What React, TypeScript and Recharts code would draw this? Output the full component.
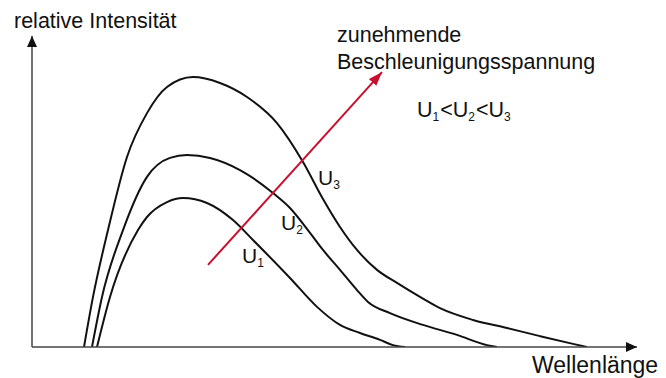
import { Line, LineChart, ReferenceLine, XAxis, YAxis } from "recharts"

// wavelength (arbitrary units) / relative intensity (0–100)
const u1X = [13.0, 15.6, 21.2, 23.0, 27.0, 30.2, 35.0, 40.2, 44.2, 51.6, 57.0, 61.6, 65.6, 69.6, 72.2, 74.6]
const u1Y = [0, 16.1, 37.6, 41.8, 46.6, 47.9, 46.3, 40.8, 34.4, 22.2, 12.9, 7.1, 4.5, 2.3, 0.6, 0]

const u2X = [12.0, 14.0, 18.2, 23.0, 27.6, 31.0, 35.6, 41.6, 48.2, 51.6, 55.6, 58.2, 61.6, 65.0, 67.2, 71.6, 78.2, 85.0, 91.0, 93.0]
const u2Y = [0, 16.1, 37.6, 54.7, 60.8, 61.7, 60.8, 56.9, 49.5, 44.7, 36.7, 31.2, 24.8, 18.3, 14.5, 10.9, 7.1, 3.9, 0.6, 0]

const u3X = [10.4, 12.2, 15.2, 19.0, 23.0, 27.0, 32.2, 37.6, 43.0, 49.0, 54.2, 58.2, 61.6, 65.0, 69.0, 73.0, 77.6, 81.6, 88.2, 95.0, 101.6, 108.2, 111.0]
const u3Y = [0, 16.1, 37.6, 61.1, 75.2, 83.6, 86.8, 84.9, 80.4, 72.0, 59.5, 47.6, 38.6, 31.2, 24.8, 20.6, 16.1, 12.5, 8.7, 6.1, 3.5, 1.0, 0]

// arrow "zunehmende Beschleunigungsspannung"
const arrowFrom = { x: 35.2, y: 26.4 }
const arrowTo = { x: 70.0, y: 88.4 }

const X_MAX = 121
const Y_MAX = 100

const toPoints = (xs: number[], ys: number[]) => xs.map((x, i) => ({ x, y: ys[i] }))

const FONT = "'Liberation Sans', Arial, sans-serif"

const arrowShape = (color: string, width: number, marker: string) => (p: any) => (
  <line x1={p.x1} y1={p.y1} x2={p.x2} y2={p.y2} stroke={color} strokeWidth={width} markerEnd={`url(#${marker})`} />
)

function Sub({ x, y, n }: { x: number; y: number; n: string }) {
  return (
    <text x={x} y={y} fontSize={21} fill="#111" fontFamily={FONT}>
      U<tspan fontSize={12} dy={4}>{n}</tspan>
    </text>
  )
}

export default function App() {
  const curves = [toPoints(u1X, u1Y), toPoints(u2X, u2Y), toPoints(u3X, u3Y)]

  return (
    <div style={{ position: "absolute", left: 0, top: 0, width: 666, height: 378, background: "#fff" }}>
      <LineChart width={666} height={378} margin={{ top: 36, right: 29, bottom: 31, left: 32 }}>
        <XAxis type="number" dataKey="x" domain={[0, X_MAX]} hide allowDataOverflow />
        <YAxis type="number" dataKey="y" domain={[0, Y_MAX]} hide allowDataOverflow />
        {curves.map((d, i) => (
          <Line
            key={i}
            data={d}
            dataKey="y"
            type="monotone"
            stroke="#111"
            strokeWidth={2}
            dot={false}
            isAnimationActive={false}
          />
        ))}
        <ReferenceLine
          segment={[{ x: 0, y: 0 }, { x: X_MAX, y: 0 }]}
          ifOverflow="visible"
          shape={arrowShape("#444", 1.5, "axisHead")}
        />
        <ReferenceLine
          segment={[{ x: 0, y: 0 }, { x: 0, y: Y_MAX }]}
          ifOverflow="visible"
          shape={arrowShape("#444", 1.5, "axisHead")}
        />
        <ReferenceLine
          segment={[arrowFrom, arrowTo]}
          ifOverflow="visible"
          shape={arrowShape("#c8102e", 2, "redHead")}
        />
      </LineChart>
      <svg width={666} height={378} style={{ position: "absolute", left: 0, top: 0, pointerEvents: "none" }}>
        <defs>
          <marker id="axisHead" viewBox="0 0 11 10" refX={11} refY={5} markerWidth={11} markerHeight={10} markerUnits="userSpaceOnUse" orient="auto">
            <path d="M0,0 L11,5 L0,10 z" fill="#111" />
          </marker>
          <marker id="redHead" viewBox="0 0 14 10" refX={14} refY={5} markerWidth={14} markerHeight={10} markerUnits="userSpaceOnUse" orient="auto">
            <path d="M0,0 L14,5 L0,10 z" fill="#c8102e" />
          </marker>
        </defs>
        <g fontFamily={FONT} fontSize={21.5} fill="#111">
          <text x={14} y={28}>relative Intensität</text>
          <text x={337} y={42}>zunehmende</text>
          <text x={337} y={69}>Beschleunigungsspannung</text>
          <text x={532} y={373} fontSize={23}>Wellenlänge</text>
          <text x={417} y={117}>
            U<tspan fontSize={12} dy={4}>1</tspan>
            <tspan dy={-4} dx={1}>{"<"}</tspan>U<tspan fontSize={12} dy={4}>2</tspan>
            <tspan dy={-4} dx={1}>{"<"}</tspan>U<tspan fontSize={12} dy={4}>3</tspan>
          </text>
        </g>
        <Sub x={242} y={263} n="1" />
        <Sub x={281} y={230} n="2" />
        <Sub x={318} y={185} n="3" />
      </svg>
    </div>
  )
}
